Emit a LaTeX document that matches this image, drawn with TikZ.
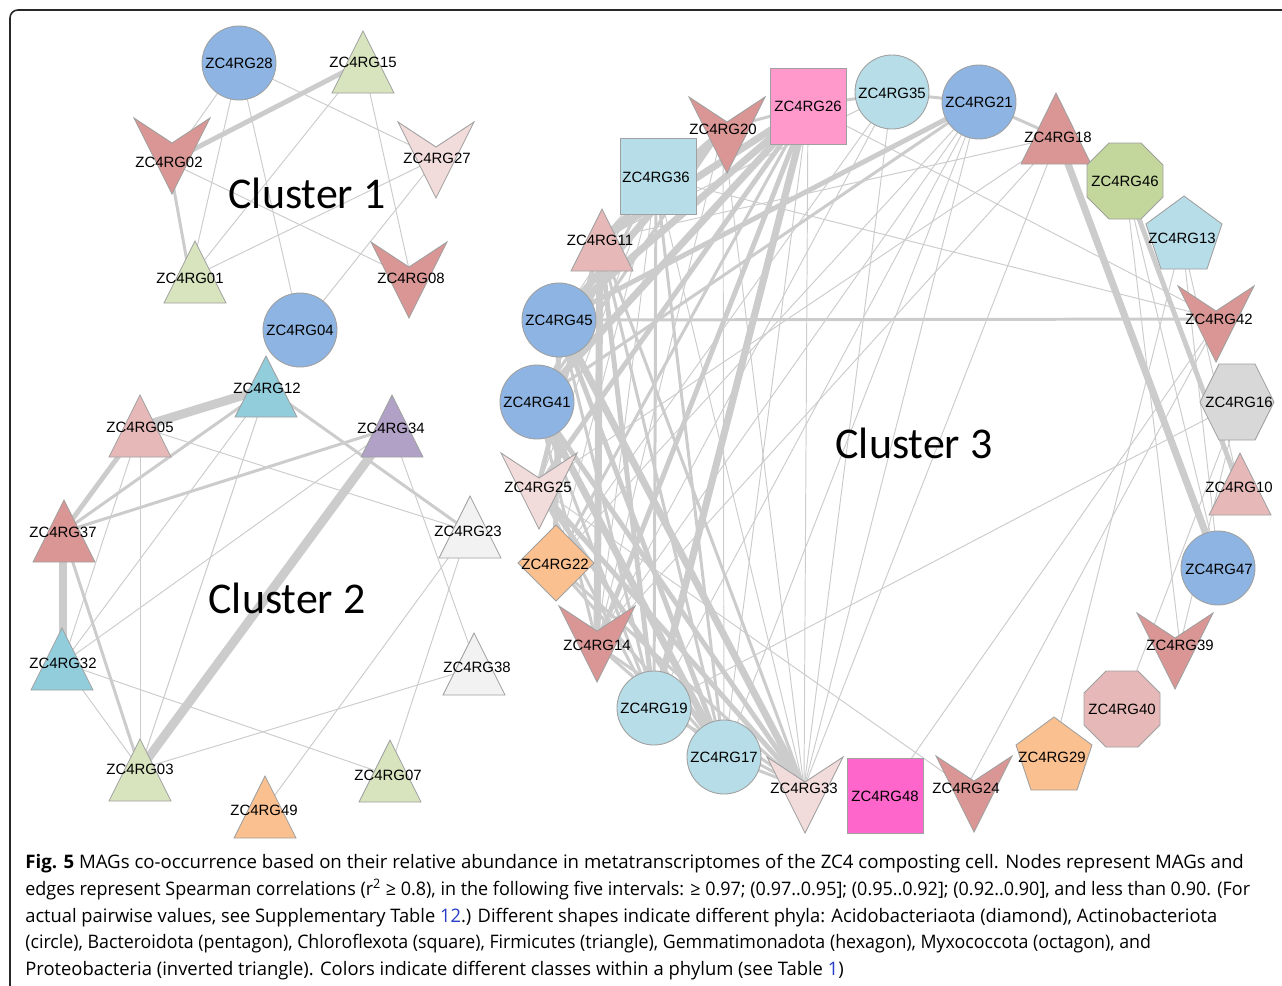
\documentclass[tikz,border=0pt]{standalone}
\usepackage{fontspec}
\setmainfont{Liberation Sans}
\newfontfamily\clusterfont{Carlito}
\newfontfamily\captionfont{Open Sans}
\usepackage{tikz}
\pgfdeclarelayer{background}
\pgfsetlayers{background,main}

\begin{document}
\begin{tikzpicture}[x=0.02cm,y=-0.02cm]
	\tikzstyle{every node}=[scale=1.0000]
	
	\definecolor{nodeblue}{RGB}{141,180,226}
	\definecolor{nodegreen}{RGB}{215,228,189}
	\definecolor{nodered}{RGB}{217,150,148}
	\definecolor{nodepale}{RGB}{242,220,219}
	\definecolor{noderose}{RGB}{230,185,184}
	\definecolor{nodeteal}{RGB}{146,205,220}
	\definecolor{nodepurple}{RGB}{178,161,199}
	\definecolor{nodewhite}{RGB}{242,242,242}
	\definecolor{nodeorange}{RGB}{250,192,143}
	\definecolor{nodecyan}{RGB}{183,221,232}
	\definecolor{nodepink}{RGB}{255,153,204}
	\definecolor{nodemagenta}{RGB}{255,102,204}
	\definecolor{nodeolive}{RGB}{195,214,155}
	\definecolor{nodesilver}{RGB}{216,216,216}
	\definecolor{nodeline}{RGB}{160,160,160}
	\definecolor{edgegrey}{RGB}{204,204,204}
	\definecolor{framegrey}{RGB}{40,40,40}
	\definecolor{linkblue}{RGB}{40,60,200}
	%%Network of MAGs, pixel coordinates
	
	\tikzstyle{mag}=[font=\fontsize{8.5}{10}\selectfont, inner sep=0pt]
	\tikzstyle{shp}=[draw=nodeline, line width=0.5pt]
	\tikzstyle{clusterlabel}=[font=\clusterfont\fontsize{25}{30}\selectfont, inner sep=0pt]
	\tikzstyle{capline}=[font=\captionfont\fontsize{10.6}{13}\selectfont, inner sep=0pt, anchor=base west]
	\tikzstyle{e1}=[draw=edgegrey, line width=0.55pt]
	\tikzstyle{e2}=[draw=edgegrey, line width=1.7pt]
	\tikzstyle{e3}=[draw=edgegrey, line width=2.8pt]
	\tikzstyle{e4}=[draw=edgegrey, line width=4.0pt]
	\tikzstyle{e5}=[draw=edgegrey, line width=5.1pt]
	
	\clip (0,0) rectangle (1282,985);
	\draw [framegrey, line width=0.9pt, rounded corners=4.5pt]  (10,1000) -- (10,10) -- (1300,10);
	
	%% cluster 1
	\filldraw [shp, fill=nodeblue]  (239,63) circle [radius=37];
	\filldraw [shp, fill=nodegreen]  (363,31) -- (394,93) -- (332,93) -- cycle;
	\filldraw [shp, fill=nodered]  (134,118) -- (172,143) -- (210,118) -- (172,194) -- cycle;
	\filldraw [shp, fill=nodepale]  (398,122) -- (436,147) -- (474,122) -- (436,198) -- cycle;
	\filldraw [shp, fill=nodegreen]  (195,241) -- (226,303) -- (164,303) -- cycle;
	\filldraw [shp, fill=nodered]  (371,242) -- (409,267) -- (447,242) -- (409,318) -- cycle;
	\filldraw [shp, fill=nodeblue]  (300,330) circle [radius=37];
	\node [mag] (g28) at (239,63) {ZC4RG28};
	\node [mag] (g15) at (363,62) {ZC4RG15};
	\node [mag] (g02) at (169,162) {ZC4RG02};
	\node [mag] (g27) at (437,158) {ZC4RG27};
	\node [mag] (g01) at (190,278) {ZC4RG01};
	\node [mag] (g08) at (411,278) {ZC4RG08};
	\node [mag] (g04) at (300,330) {ZC4RG04};
	\node [clusterlabel] (cl1) at (307,193) {Cluster 1};
	
	%% cluster 2
	\filldraw [shp, fill=nodeteal]  (266,356) -- (297,417) -- (235,417) -- cycle;
	\filldraw [shp, fill=noderose]  (140,395) -- (171,457) -- (109,457) -- cycle;
	\filldraw [shp, fill=nodepurple]  (392,395) -- (423,457) -- (361,457) -- cycle;
	\filldraw [shp, fill=nodered]  (64,500) -- (95,562) -- (33,562) -- cycle;
	\filldraw [shp, fill=nodewhite]  (470,496) -- (501,558) -- (439,558) -- cycle;
	\filldraw [shp, fill=nodeteal]  (62,628) -- (93,690) -- (31,690) -- cycle;
	\filldraw [shp, fill=nodewhite]  (474,633) -- (505,695) -- (443,695) -- cycle;
	\filldraw [shp, fill=nodegreen]  (140,739) -- (171,801) -- (109,801) -- cycle;
	\filldraw [shp, fill=nodegreen]  (390,740) -- (421,802) -- (359,802) -- cycle;
	\filldraw [shp, fill=nodeorange]  (265,776) -- (296,838) -- (234,838) -- cycle;
	\node [mag] (g12) at (267,388) {ZC4RG12};
	\node [mag] (g05) at (140,427) {ZC4RG05};
	\node [mag] (g34) at (391,428) {ZC4RG34};
	\node [mag] (g37) at (63,532) {ZC4RG37};
	\node [mag] (g23) at (468,531) {ZC4RG23};
	\node [mag] (g32) at (63,663) {ZC4RG32};
	\node [mag] (g38) at (477,667) {ZC4RG38};
	\node [mag] (g03) at (140,769) {ZC4RG03};
	\node [mag] (g07) at (388,775) {ZC4RG07};
	\node [mag] (g49) at (264,810) {ZC4RG49};
	\node [clusterlabel] (cl2) at (287,598) {Cluster 2};
	
	%% cluster 3
	\filldraw [shp, fill=nodered]  (689,97) -- (727,122) -- (765,97) -- (727,173) -- cycle;
	\filldraw [shp, fill=nodepink]  (770,68) rectangle (846,144);
	\filldraw [shp, fill=nodecyan]  (892,92) circle [radius=37];
	\filldraw [shp, fill=nodeblue]  (979,102) circle [radius=37];
	\filldraw [shp, fill=nodered]  (1056,93) -- (1091,164) -- (1021,164) -- cycle;
	\filldraw [shp, fill=nodeolive]  (1109,143) -- (1141,143) -- (1163,165) -- (1163,197) -- (1141,219) -- (1109,219) -- (1087,197) -- (1087,165) -- cycle;
	\filldraw [shp, fill=nodecyan]  (1184,196) -- (1222,224) -- (1207,269) -- (1161,269) -- (1146,224) -- cycle;
	\filldraw [shp, fill=nodered]  (1178,286) -- (1216,311) -- (1254,286) -- (1216,362) -- cycle;
	\filldraw [shp, fill=nodesilver]  (1200,402) -- (1219,364) -- (1255,364) -- (1274,402) -- (1255,440) -- (1219,440) -- cycle;
	\filldraw [shp, fill=noderose]  (1240,453) -- (1271,515) -- (1209,515) -- cycle;
	\filldraw [shp, fill=nodeblue]  (1218,568) circle [radius=37];
	\filldraw [shp, fill=nodered]  (1137,613) -- (1175,638) -- (1213,613) -- (1175,689) -- cycle;
	\filldraw [shp, fill=noderose]  (1106,671) -- (1138,671) -- (1160,693) -- (1160,725) -- (1138,747) -- (1106,747) -- (1084,725) -- (1084,693) -- cycle;
	\filldraw [shp, fill=nodeorange]  (1054,717) -- (1092,745) -- (1077,790) -- (1031,790) -- (1016,745) -- cycle;
	\filldraw [shp, fill=nodered]  (936,756) -- (974,781) -- (1012,756) -- (974,832) -- cycle;
	\filldraw [shp, fill=nodemagenta]  (847,758) rectangle (923,833);
	\filldraw [shp, fill=nodepale]  (767,757) -- (805,782) -- (843,757) -- (805,833) -- cycle;
	\filldraw [shp, fill=nodecyan]  (724,757) circle [radius=37];
	\filldraw [shp, fill=nodecyan]  (654,708) circle [radius=37];
	\filldraw [shp, fill=nodered]  (559,606) -- (597,631) -- (635,606) -- (597,682) -- cycle;
	\filldraw [shp, fill=nodeorange]  (556,525) -- (594,563) -- (556,601) -- (518,563) -- cycle;
	\filldraw [shp, fill=nodepale]  (501,453) -- (539,478) -- (577,453) -- (539,529) -- cycle;
	\filldraw [shp, fill=nodeblue]  (537,402) circle [radius=37];
	\filldraw [shp, fill=nodeblue]  (559,320) circle [radius=37];
	\filldraw [shp, fill=noderose]  (602,209) -- (633,271) -- (571,271) -- cycle;
	\filldraw [shp, fill=nodecyan]  (620,138) rectangle (696,214);
	\node [mag] (g20) at (723,129) {ZC4RG20};
	\node [mag] (g26) at (808,106) {ZC4RG26};
	\node [mag] (g35) at (892,93) {ZC4RG35};
	\node [mag] (g21) at (979,102) {ZC4RG21};
	\node [mag] (g18) at (1058,137) {ZC4RG18};
	\node [mag] (g46) at (1125,181) {ZC4RG46};
	\node [mag] (g13) at (1182,238) {ZC4RG13};
	\node [mag] (g42) at (1219,319) {ZC4RG42};
	\node [mag] (g16) at (1239,402) {ZC4RG16};
	\node [mag] (g10) at (1239,487) {ZC4RG10};
	\node [mag] (g47) at (1219,569) {ZC4RG47};
	\node [mag] (g39) at (1180,645) {ZC4RG39};
	\node [mag] (g40) at (1122,709) {ZC4RG40};
	\node [mag] (g29) at (1052,757) {ZC4RG29};
	\node [mag] (g24) at (966,788) {ZC4RG24};
	\node [mag] (g48) at (885,796) {ZC4RG48};
	\node [mag] (g33) at (804,788) {ZC4RG33};
	\node [mag] (g17) at (724,757) {ZC4RG17};
	\node [mag] (g19) at (654,708) {ZC4RG19};
	\node [mag] (g14) at (597,645) {ZC4RG14};
	\node [mag] (g22) at (555,564) {ZC4RG22};
	\node [mag] (g25) at (538,487) {ZC4RG25};
	\node [mag] (g41) at (537,402) {ZC4RG41};
	\node [mag] (g45) at (559,320) {ZC4RG45};
	\node [mag] (g11) at (600,240) {ZC4RG11};
	\node [mag] (g36) at (656,177) {ZC4RG36};
	\node [clusterlabel] (cl3) at (914,443) {Cluster 3};
	
	\begin{pgfonlayer}{background}
	%% edges of cluster 1
	\draw [e3]  (g15.center) -- (g02.center);
	\draw [e2]  (g02.center) -- (g01.center);
	\foreach \a/\b in {g28/g02,g28/g01,g28/g04,g28/g27,g15/g01,g15/g08,g02/g08,g27/g01,g27/g04}
		\draw [e1]  (\a.center) -- (\b.center);
	%% edges of cluster 2
	\foreach \a/\b in {g12/g05,g34/g03,g37/g32}
		\draw [e5]  (\a.center) -- (\b.center);
	\draw [e3]  (g05.center) -- (g37.center);
	\foreach \a/\b in {g12/g37,g12/g23,g34/g37,g37/g03}
		\draw [e2]  (\a.center) -- (\b.center);
	\foreach \a/\b in {g05/g23,g05/g32,g05/g03,g12/g32,g12/g03,g34/g32,g34/g38,g23/g49,g23/g07,g32/g07,g32/g03,g38/g03}
		\draw [e1]  (\a.center) -- (\b.center);
	%% edges of cluster 3
	\foreach \a/\b in {g35/g33,g21/g33,g18/g33,g20/g33,g26/g33,g36/g33,g21/g19,g21/g14,g35/g14,g18/g25,g35/g11,g18/g11,g21/g22,g26/g42,g19/g16,g25/g24,g48/g42,g29/g13,g40/g16,g13/g10,g42/g24,g13/g47,g46/g47,g36/g42,g21/g17,g46/g39,g35/g22,g20/g14,g36/g14,g36/g22,g36/g25,g18/g14,g20/g17,g26/g17,g16/g39,g36/g11,g36/g45}
		\draw [e1]  (\a.center) -- (\b.center);
	\foreach \a/\b in {g26/g20,g26/g35,g35/g21,g21/g18,g45/g42,g36/g19,g36/g17,g22/g33,g14/g33,g22/g17,g14/g17,g19/g33,g17/g33,g41/g19,g11/g33,g36/g41,g20/g41,g41/g14,g45/g19,g11/g17,g25/g19,g26/g22,g21/g41}
		\draw [e2]  (\a.center) -- (\b.center);
	\foreach \a/\b in {g26/g25,g21/g45,g20/g11,g26/g14,g41/g33,g25/g17,g45/g17,g11/g19,g25/g33,g46/g10,g11/g25,g45/g22}
		\draw [e3]  (\a.center) -- (\b.center);
	\foreach \a/\b in {g26/g11,g26/g45,g26/g41,g26/g19,g20/g45,g11/g14,g45/g33,g41/g17,g18/g47}
		\draw [e4]  (\a.center) -- (\b.center);
	\end{pgfonlayer}
	
	%% caption
	\node [capline] (cap1) at (25,868) {\textbf{Fig. 5} MAGs co-occurrence based on their relative abundance in metatranscriptomes of the ZC4 composting cell. Nodes represent MAGs and};
	\node [capline] (cap2) at (25,895) {\scalebox{0.965}[1]{edges represent Spearman correlations (r\textsuperscript{2} ≥ 0.8), in the following five intervals: ≥ 0.97; (0.97..0.95]; (0.95..0.92]; (0.92..0.90], and less than 0.90. (For}};
	\node [capline] (cap3) at (25,922) {\scalebox{0.983}[1]{actual pairwise values, see Supplementary Table {\color{linkblue}12}.) Different shapes indicate different phyla: Acidobacteriaota (diamond), Actinobacteriota}};
	\node [capline] (cap4) at (25,948) {\scalebox{0.955}[1]{(circle), Bacteroidota (pentagon), Chloroflexota (square), Firmicutes (triangle), Gemmatimonadota (hexagon), Myxococcota (octagon), and}};
	\node [capline] (cap5) at (25,975) {\scalebox{0.988}[1]{Proteobacteria (inverted triangle). Colors indicate different classes within a phylum (see Table {\color{linkblue}1})}};

\end{tikzpicture}
\end{document}
